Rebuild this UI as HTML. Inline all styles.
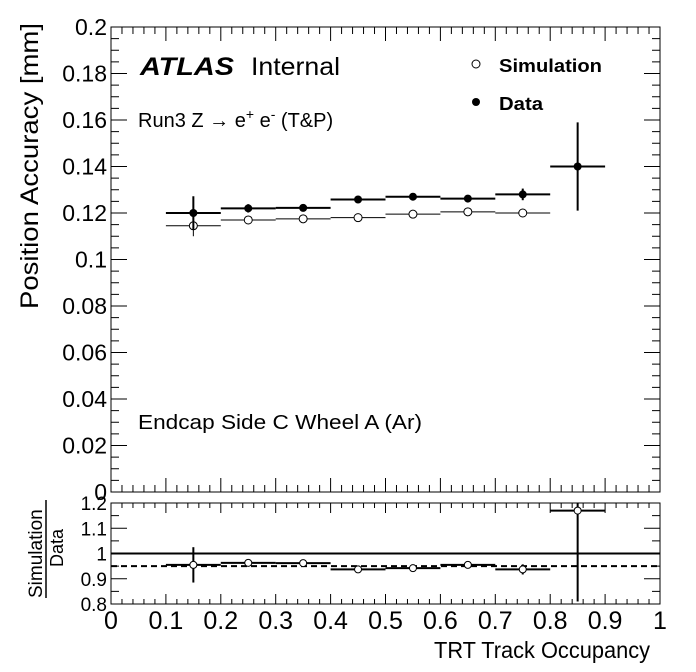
<!DOCTYPE html>
<html><head><meta charset="utf-8"><style>
html,body{margin:0;padding:0;background:#fff;width:696px;height:672px;overflow:hidden}
text{font-family:"Liberation Sans",sans-serif;fill:#000}
</style></head><body>
<svg id="s" width="696" height="672" xmlns="http://www.w3.org/2000/svg"></svg>
<script>
const s=document.getElementById('s');let h='';
const L=111,R=660,T=27,B=492,T2=503,B2=604;
const X=v=>L+v*(R-L);
const Y=v=>B-v/0.2*(B-T);
const Y2=v=>B2-(v-0.8)/0.4*(B2-T2);
h+=`<rect x="${L}" y="${T}" width="${R-L}" height="${B-T}" fill="none" stroke="#000" stroke-width="1"/>`;
h+=`<rect x="${L}" y="${T2}" width="${R-L}" height="${B2-T2}" fill="none" stroke="#000" stroke-width="1"/>`;
for(let i=0;i<=50;i++){const x=X(i/50),len=(i%5==0)?14:7;
 h+=`<line x1="${x}" y1="${B}" x2="${x}" y2="${B-len}" stroke="#000"/><line x1="${x}" y1="${T}" x2="${x}" y2="${T+len}" stroke="#000"/>`;
 const l2=(i%5==0)?10:5;
 h+=`<line x1="${x}" y1="${B2}" x2="${x}" y2="${B2-l2}" stroke="#000"/><line x1="${x}" y1="${T2}" x2="${x}" y2="${T2+l2}" stroke="#000"/>`;}
for(let i=0;i<=40;i++){const y=Y(i*0.005),len=(i%4==0)?16:8;
 h+=`<line x1="${L}" y1="${y}" x2="${L+len}" y2="${y}" stroke="#000"/><line x1="${R}" y1="${y}" x2="${R-len}" y2="${y}" stroke="#000"/>`;}
for(let i=0;i<=10;i++){const v=i*0.02;const t=i==0?'0':i==5?'0.1':i==10?'0.2':v.toFixed(2);
 h+=`<text x="${L-4}" y="${Y(v)+8}" font-size="23" text-anchor="end">${t}</text>`;}
for(let i=0;i<=8;i++){const v=0.8+i*0.05,y=Y2(v),len=(i%2==0)?16:8;
 h+=`<line x1="${L}" y1="${y}" x2="${L+len}" y2="${y}" stroke="#000"/><line x1="${R}" y1="${y}" x2="${R-len}" y2="${y}" stroke="#000"/>`;}
[['0.8',0.8],['0.9',0.9],['1',1],['1.1',1.1],['1.2',1.2]].forEach(([t,v])=>{h+=`<text x="${L-4}" y="${Y2(v)+7}" font-size="19" text-anchor="end">${t}</text>`});
for(let i=0;i<=10;i++){const t=i==0?'0':i==10?'1':(i/10).toFixed(1);h+=`<text x="${X(i/10)}" y="629" font-size="25" text-anchor="middle">${t}</text>`;}
h+=`<text x="${R-10}" y="658" font-size="23" text-anchor="end" textLength="216" lengthAdjust="spacingAndGlyphs">TRT Track Occupancy</text>`;
h+=`<text transform="translate(38,${T-4}) rotate(-90)" font-size="25" text-anchor="end" textLength="286" lengthAdjust="spacingAndGlyphs">Position Accuracy [mm]</text>`;
h+=`<text transform="translate(42,598) rotate(-90)" font-size="19">Simulation</text><line x1="46" y1="500" x2="46" y2="598" stroke="#000" stroke-width="1.5"/><text transform="translate(63,567) rotate(-90)" font-size="18">Data</text>`;
h+=`<text x="140" y="75" font-size="25" font-weight="bold" font-style="italic" textLength="94" lengthAdjust="spacingAndGlyphs">ATLAS</text><text x="251" y="75" font-size="25" textLength="89" lengthAdjust="spacingAndGlyphs">Internal</text>`;
h+=`<text x="138" y="127" font-size="20">Run3 Z → e<tspan font-size="14" dy="-8">+</tspan><tspan dy="8"> e</tspan><tspan font-size="14" dy="-8">-</tspan><tspan dy="8"> (T&amp;P)</tspan></text>`;
h+=`<text x="138" y="429" font-size="20" textLength="284" lengthAdjust="spacingAndGlyphs">Endcap Side C Wheel A (Ar)</text>`;
h+=`<circle cx="476" cy="64" r="4" fill="#fff" stroke="#000"/><text x="499" y="72" font-size="18" font-weight="bold" textLength="103" lengthAdjust="spacingAndGlyphs">Simulation</text>`;
h+=`<circle cx="476" cy="102" r="4" fill="#000"/><text x="499" y="110" font-size="18" font-weight="bold" textLength="44" lengthAdjust="spacingAndGlyphs">Data</text>`;
const sim=[[0.1145,0.0045],[0.117,0.001],[0.1175,0.001],[0.118,0.001],[0.1195,0.001],[0.1205,0.001],[0.12,0.001]];
const dat=[[0.120,0.0072],[0.122,0.0018],[0.1222,0.0012],[0.1258,0.0012],[0.127,0.001],[0.1262,0.001],[0.128,0.0025],[0.140,0.019]];
sim.forEach(([v,e],i)=>{const c=X(0.15+i*0.1),y=Y(v);
 h+=`<line x1="${X(0.1+i*0.1)}" y1="${y}" x2="${X(0.2+i*0.1)}" y2="${y}" stroke="#000" stroke-width="1"/><line x1="${c}" y1="${Y(v-e)}" x2="${c}" y2="${Y(v+e)}" stroke="#000"/><circle cx="${c}" cy="${y}" r="4" fill="#fff" stroke="#000"/>`;});
dat.forEach(([v,e],i)=>{const c=X(0.15+i*0.1),y=Y(v);
 h+=`<line x1="${X(0.1+i*0.1)}" y1="${y}" x2="${X(0.2+i*0.1)}" y2="${y}" stroke="#000" stroke-width="2"/><line x1="${c}" y1="${Y(v-e)}" x2="${c}" y2="${Y(v+e)}" stroke="#000" stroke-width="2"/><circle cx="${c}" cy="${y}" r="4" fill="#000"/>`;});
h+=`<line x1="${L}" y1="${Y2(1)}" x2="${R}" y2="${Y2(1)}" stroke="#000" stroke-width="2"/>`;
h+=`<line x1="${L}" y1="${Y2(0.95)}" x2="${R}" y2="${Y2(0.95)}" stroke="#000" stroke-width="2" stroke-dasharray="6,4"/>`;
const rat=[[0.955,0.07],[0.963,0.01],[0.962,0.008],[0.937,0.006],[0.942,0.005],[0.955,0.005],[0.937,0.02],[1.17,0.36]];
rat.forEach(([v,e],i)=>{const c=X(0.15+i*0.1),y=Y2(v);
 h+=`<line x1="${X(0.1+i*0.1)}" y1="${y}" x2="${X(0.2+i*0.1)}" y2="${y}" stroke="#000" stroke-width="2"/><line x1="${c}" y1="${Math.min(Y2(v-e),B2)}" x2="${c}" y2="${Math.max(Y2(v+e),T2)}" stroke="#000" stroke-width="2"/><circle cx="${c}" cy="${y}" r="3.5" fill="#fff" stroke="#000"/>`;});
s.innerHTML=h;
</script>
</body></html>
